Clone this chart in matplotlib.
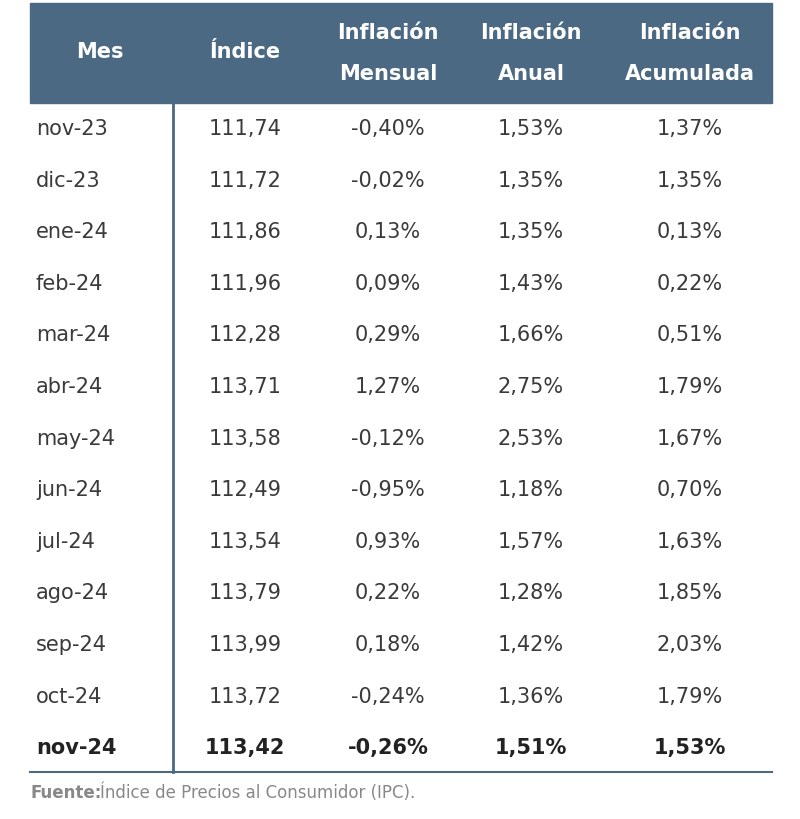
import matplotlib
matplotlib.use("Agg")
import matplotlib.pyplot as plt
from matplotlib.patches import Rectangle

headers = [["Mes"], ["Índice"], ["Inflación", "Mensual"], ["Inflación", "Anual"], ["Inflación", "Acumulada"]]
meses = ["nov-23","dic-23","ene-24","feb-24","mar-24","abr-24","may-24","jun-24","jul-24","ago-24","sep-24","oct-24","nov-24"]
indice = ["111,74","111,72","111,86","111,96","112,28","113,71","113,58","112,49","113,54","113,79","113,99","113,72","113,42"]
mensual = ["-0,40%","-0,02%","0,13%","0,09%","0,29%","1,27%","-0,12%","-0,95%","0,93%","0,22%","0,18%","-0,24%","-0,26%"]
anual = ["1,53%","1,35%","1,35%","1,43%","1,66%","2,75%","2,53%","1,18%","1,57%","1,28%","1,42%","1,36%","1,51%"]
acum = ["1,37%","1,35%","0,13%","0,22%","0,51%","1,79%","1,67%","0,70%","1,63%","1,85%","2,03%","1,79%","1,53%"]

W, H = 800, 819
fig = plt.figure(figsize=(W/100, H/100), dpi=100)
ax = fig.add_axes([0, 0, 1, 1])
ax.set_xlim(0, W); ax.set_ylim(H, 0); ax.axis("off")

hc = "#4b6983"
ax.add_patch(Rectangle((30, 3), 742, 100, color=hc))
xs = [100, 245, 388, 531, 690]
for x, h in zip(xs, headers):
    if len(h) == 1:
        ax.text(x, 52, h[0], ha="center", va="center", color="white", fontsize=15, fontweight="bold", family="DejaVu Sans")
    else:
        ax.text(x, 33, h[0], ha="center", va="center", color="white", fontsize=15, fontweight="bold", family="DejaVu Sans")
        ax.text(x, 74, h[1], ha="center", va="center", color="white", fontsize=15, fontweight="bold", family="DejaVu Sans")

tc = "#3a3a3a"
for i in range(len(meses)):
    y = 129 + i * 51.6
    last = i == len(meses) - 1
    fw = "bold" if last else "normal"
    c = "#222222" if last else tc
    kw = dict(va="center", fontsize=15, fontweight=fw, color=c, family="DejaVu Sans")
    ax.text(36, y, meses[i], ha="left", **kw)
    ax.text(xs[1], y, indice[i], ha="center", **kw)
    ax.text(xs[2], y, mensual[i], ha="center", **kw)
    ax.text(xs[3], y, anual[i], ha="center", **kw)
    ax.text(xs[4], y, acum[i], ha="center", **kw)

ax.plot([173, 173], [103, 772], color=hc, lw=2)
ax.plot([30, 772], [772, 772], color=hc, lw=1.5)
ax.text(30, 793, "Fuente:", ha="left", va="center", fontsize=12, fontweight="bold", color="#888888")
ax.text(100, 793, "Índice de Precios al Consumidor (IPC).", ha="left", va="center", fontsize=12, color="#888888")

fig.savefig("out.png", dpi=100, facecolor="white")
